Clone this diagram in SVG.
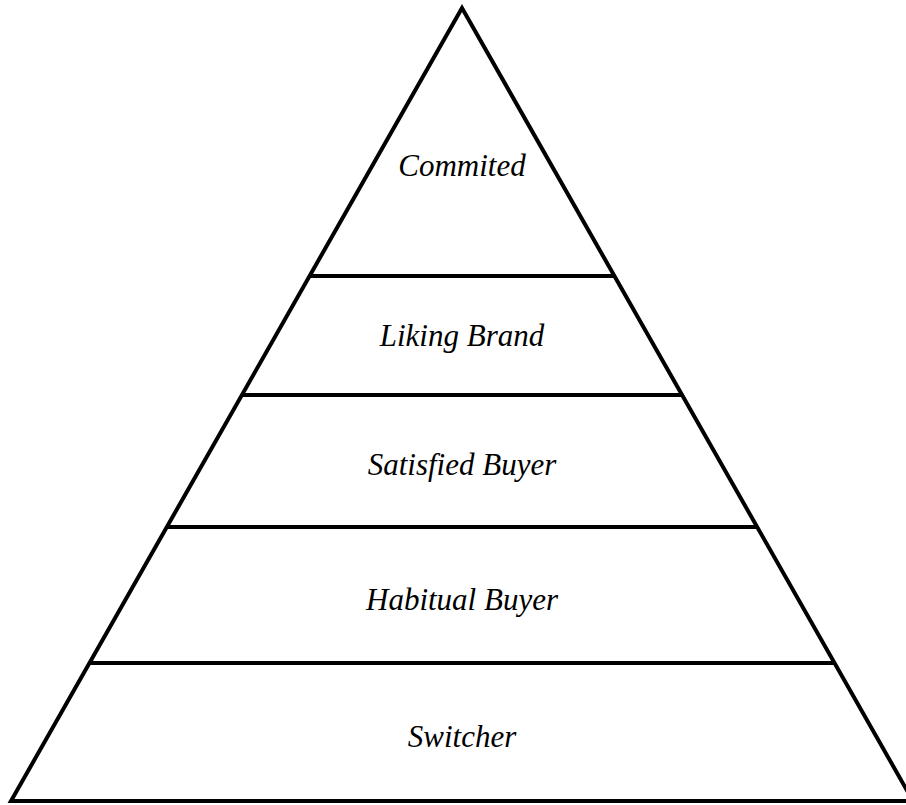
<svg xmlns="http://www.w3.org/2000/svg" width="906" height="805" viewBox="0 0 906 805">
<style>
.ln{stroke:#000;stroke-width:4;fill:none;stroke-linejoin:miter;stroke-miterlimit:10}
.t{font-family:"Liberation Serif","Times New Roman",serif;font-style:italic;font-size:31px;fill:#000;text-anchor:middle}
</style>
<rect width="906" height="805" fill="#fff"/>
<g id="pyramid">
<polygon class="ln" points="462,8 11,801 913,801"/>
</g>
<g id="connectors">
<line class="ln" x1="309" y1="276" x2="615" y2="276"/>
<line class="ln" x1="242" y1="395" x2="682" y2="395"/>
<line class="ln" x1="167" y1="527" x2="757" y2="527"/>
<line class="ln" x1="90" y1="663" x2="834" y2="663"/>
</g>
<g id="committed"><text class="t" x="462" y="176">Commited</text></g>
<g id="liking"><text class="t" x="462" y="346">Liking Brand</text></g>
<g id="satisfied"><text class="t" x="462" y="475">Satisfied Buyer</text></g>
<g id="habitual"><text class="t" x="462" y="610">Habitual Buyer</text></g>
<g id="switcher"><text class="t" x="462" y="747">Switcher</text></g>
</svg>
